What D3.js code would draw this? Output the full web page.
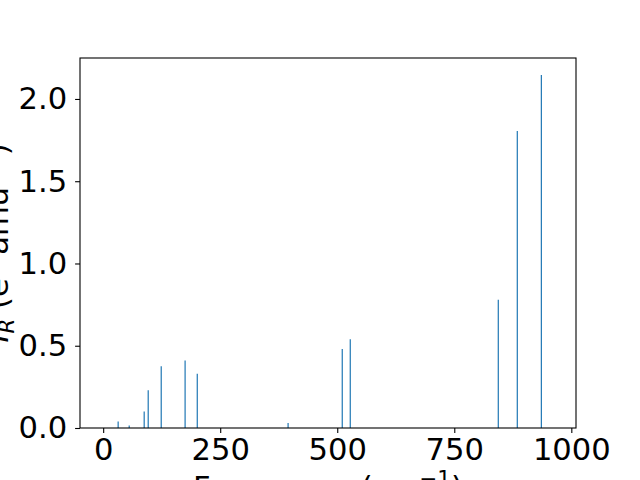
<!DOCTYPE html>
<html><head><meta charset="utf-8">
<script src="https://cdn.jsdelivr.net/npm/d3@7"></script>
<style>body{margin:0;background:#fff}svg{display:block}text{font-family:"DejaVu Sans",sans-serif}</style>
</head><body>
<script>
const frequencies = [32, 55.6, 87.6, 96.2, 124, 175, 201, 395, 510.7, 527.8, 844, 884.6, 936];
const intensities = [0.04, 0.015, 0.10, 0.23, 0.375, 0.41, 0.33, 0.03, 0.48, 0.54, 0.78, 1.805, 2.145];
const xTicks = [0, 250, 500, 750, 1000];
const yTicks = [0, 0.5, 1.0, 1.5, 2.0];

const W = 640, H = 480;
const L = 80, R = 576, T = 58, B = 428;
const svg = d3.select("body").append("svg").attr("width", W).attr("height", H);

const x = d3.scaleLinear().domain([-49.5, 1010]).range([L, R]);
const y = d3.scaleLinear().domain([0, 2.249]).range([B, T]);

// bars
svg.append("g").selectAll("line").data(frequencies).join("line")
  .attr("x1", d => x(d)).attr("x2", d => x(d))
  .attr("y1", y(0)).attr("y2", (d, i) => y(intensities[i]))
  .attr("stroke", "#1f77b4").attr("stroke-width", 1.2);

// frame
svg.append("rect").attr("x", L).attr("y", T).attr("width", R - L).attr("height", B - T)
  .attr("fill", "none").attr("stroke", "#000").attr("stroke-width", 1.1);

const fs = 30.6;
// x axis
const xa = svg.append("g").attr("transform", `translate(0,${B})`)
  .call(d3.axisBottom(x).tickValues(xTicks).tickFormat(d3.format("d")).tickSize(4.9).tickPadding(4.9));
xa.select(".domain").remove();
xa.selectAll("line").attr("stroke", "#000").attr("stroke-width", 1.1);
xa.selectAll("text").attr("font-size", fs).attr("fill", "#000").attr("font-family", "DejaVu Sans");

// y axis
const ya = svg.append("g").attr("transform", `translate(${L},0)`)
  .call(d3.axisLeft(y).tickValues(yTicks).tickFormat(d3.format(".1f")).tickSize(4.9).tickPadding(8));
ya.select(".domain").remove();
ya.selectAll("line").attr("stroke", "#000").attr("stroke-width", 1.1);
ya.selectAll("text").attr("font-size", fs).attr("fill", "#000").attr("font-family", "DejaVu Sans");

// x label
const xl = svg.append("text").attr("x", (L + R) / 2).attr("y", 498).attr("text-anchor", "middle")
  .attr("font-size", fs).attr("fill", "#000");
xl.append("tspan").text("Frequency (cm");
xl.append("tspan").attr("font-size", fs * 0.7).attr("dy", -12).text("−1");
xl.append("tspan").attr("dy", 12).text(")");

// y label
const yl = svg.append("text").attr("transform", `translate(8,${(T + B) / 2}) rotate(-90)`)
  .attr("text-anchor", "middle").attr("font-size", fs).attr("fill", "#000");
yl.append("tspan").attr("font-style", "italic").text("I");
yl.append("tspan").attr("font-style", "italic").attr("font-size", fs * 0.7).attr("dy", 6).text("R");
yl.append("tspan").attr("dy", -6).text(" (e");
yl.append("tspan").attr("font-size", fs * 0.7).attr("dy", -12).text("2");
yl.append("tspan").attr("dy", 12).text(" amu");
yl.append("tspan").attr("font-size", fs * 0.7).attr("dy", -12).text("−1");
yl.append("tspan").attr("dy", 12).text(")");
</script>
</body></html>
